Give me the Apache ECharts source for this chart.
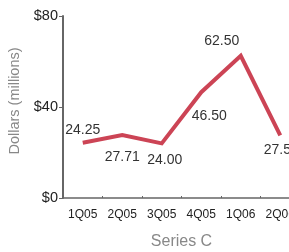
<!DOCTYPE html>
<html><head><meta charset="utf-8">
<script src="https://cdn.jsdelivr.net/npm/echarts@6/dist/echarts.min.js"></script>
<style>html,body{margin:0;padding:0;background:#fff}#c{width:289px;height:252px}</style>
</head><body><div id="c"></div>
<script>
const categories = ['1Q05','2Q05','3Q05','4Q05','1Q06','2Q06'];
const seriesC = [24.25, 27.71, 24.00, 46.50, 62.50, 27.50];
const yTicks = [0, 40, 80];

const labelPos = ['top','bottom','bottom','bottom','top','bottom'];
const labelOff = [[0,0],[0,10],[3,4],[8,11],[-19,-2],[1,2]];

const chart = echarts.init(document.getElementById('c'));
chart.setOption({
  animation: false,
  grid: {left: 63, top: 16, width: 237, height: 182, containLabel: false, outerBoundsMode: 'none'},
  xAxis: {
    type: 'category', data: categories, boundaryGap: true,
    name: 'Series C', nameLocation: 'middle', nameGap: 36,
    nameTextStyle: {color: '#888', fontSize: 16, fontFamily: 'Liberation Sans'},
    axisLine: {lineStyle: {color: '#666', width: 1.5}},
    axisTick: {show: true, inside: true, length: 2, lineStyle: {color: '#666'}},
    axisLabel: {color: '#222', fontSize: 12, fontFamily: 'Liberation Sans', margin: 11, interval: 0}
  },
  yAxis: {
    type: 'value', min: yTicks[0], max: yTicks[yTicks.length-1], interval: 40,
    name: 'Dollars (millions)', nameLocation: 'middle', nameGap: 28,
    nameTextStyle: {color: '#888', fontSize: 14.5, fontFamily: 'Liberation Sans', padding: [12, 0, 0, 12]},
    axisLine: {show: true, lineStyle: {color: '#666', width: 2}},
    axisTick: {show: true, length: 4, lineStyle: {color: '#666'}},
    splitLine: {show: false},
    axisLabel: {color: '#222', fontSize: 14.5, fontFamily: 'Liberation Sans', margin: 5,
      formatter: v => '$' + v}
  },
  series: [{
    type: 'line', name: 'Series C',
    data: seriesC.map((v, i) => ({
      value: v,
      label: {position: labelPos[i], offset: labelOff[i]}
    })),
    symbol: 'circle', symbolSize: 1, showSymbol: true,
    lineStyle: {color: '#cc4455', width: 4, join: 'miter'},
    itemStyle: {color: 'rgba(0,0,0,0)'},
    label: {show: true, color: '#333', fontSize: 14, fontFamily: 'Liberation Sans',
      formatter: p => p.value.toFixed(2)}
  }]
});
</script></body></html>
